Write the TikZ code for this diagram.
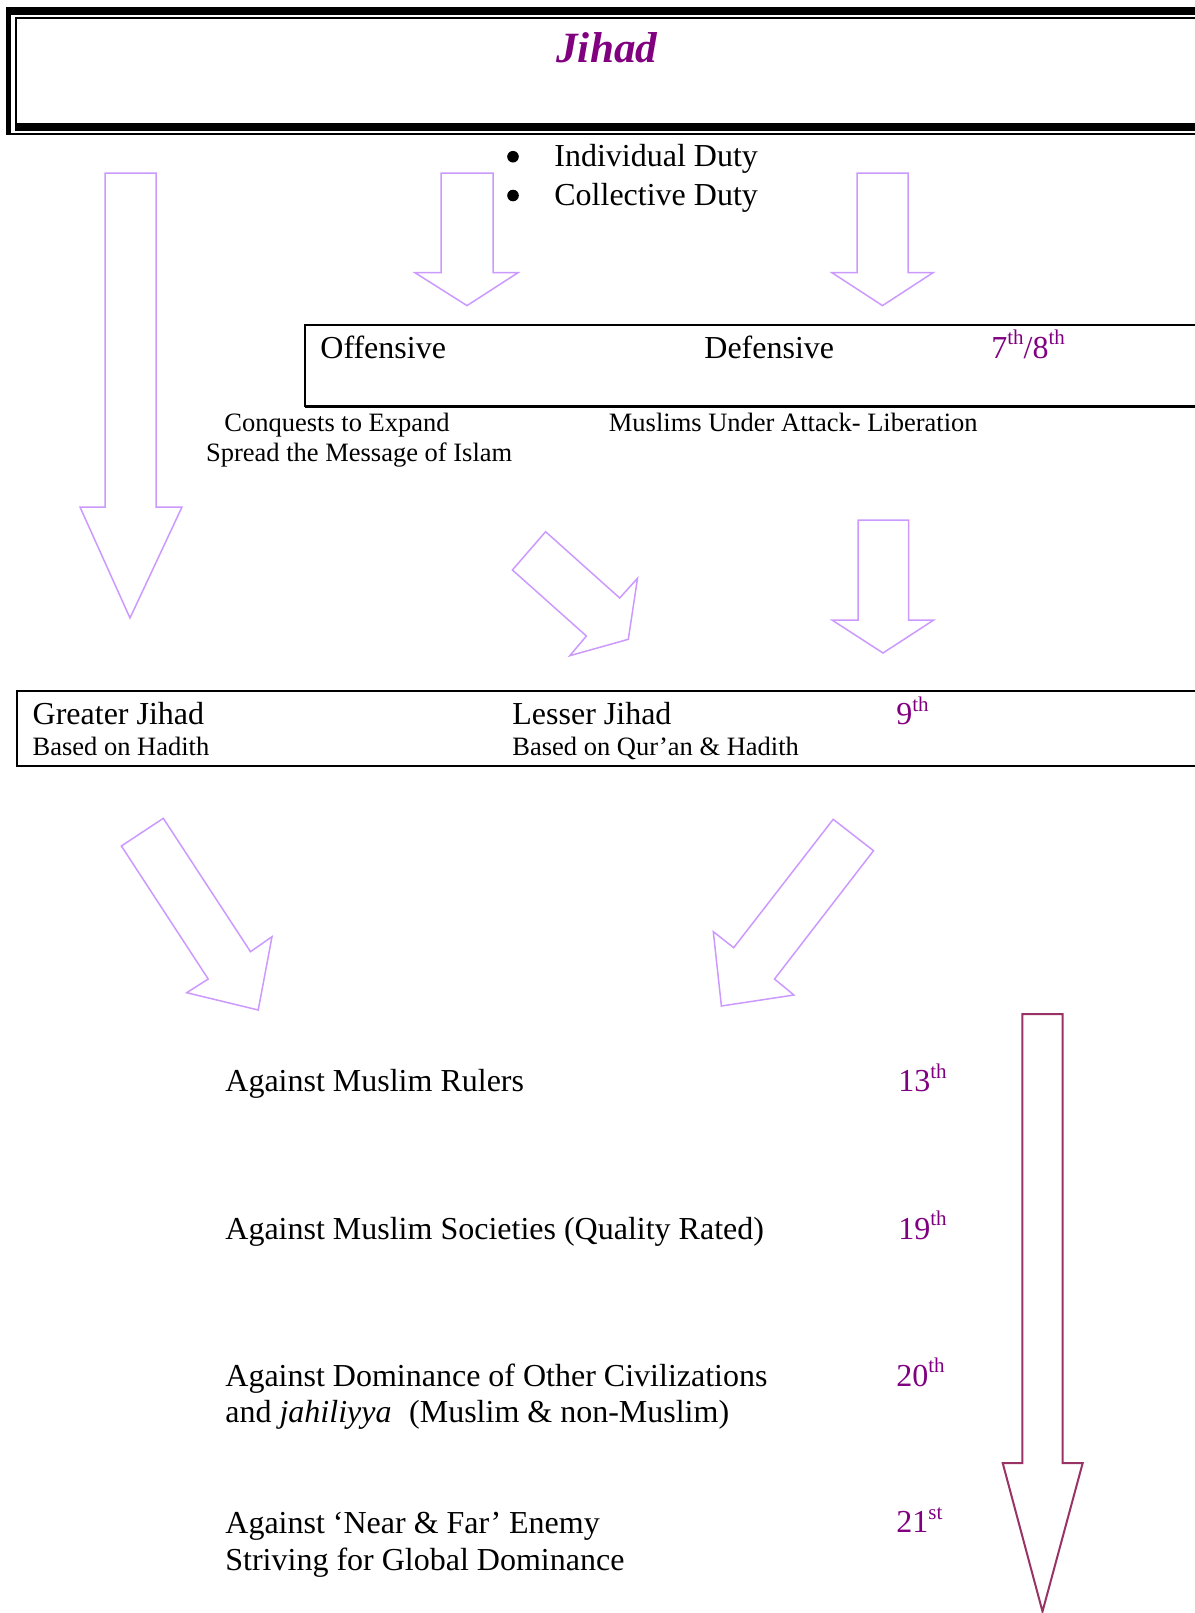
\documentclass[tikz,border=0pt]{standalone}
\usepackage{fontspec}
\setmainfont{Liberation Serif}
\definecolor{jpurple}{HTML}{800080}
\definecolor{lav}{HTML}{CC99FF}
\definecolor{plum}{HTML}{993366}
\newcommand{\supx}[1]{\raisebox{6.6pt}{\fontsize{10.5}{12}\selectfont #1}}
\tikzset{
  txt/.style={anchor=base west, inner sep=0pt, font=\fontsize{16}{19}\selectfont},
  smalltxt/.style={anchor=base west, inner sep=0pt, font=\fontsize{13.25}{16}\selectfont},
  cent/.style={txt, text=jpurple},
  bulletdot/.style={circle, fill=black, inner sep=0pt, minimum size=5.8pt},
  lavarrow/.style={draw=lav, line width=0.75pt, line join=miter},
  plumarrow/.style={draw=plum, line width=1pt, line join=miter},
  boxline/.style={draw=black, line width=1pt}
}
\begin{document}
\begin{tikzpicture}[x=0.5pt,y=-0.5pt]
\useasboundingbox (0,0) rectangle (1195,1613);

% ---- title box (double border) ----
\fill[black] (6,6.7) rectangle (1200,15);
\fill[black] (6,6.7) rectangle (11.4,134.7);
\fill[black] (14.5,122.7) rectangle (1200,131);
\fill[black] (14.5,17) rectangle (1200,18.7);
\fill[black] (14.5,17) rectangle (16.8,131);
\fill[black] (6,132.7) rectangle (1200,134.7);
\node[anchor=base, inner sep=0pt, text=jpurple, font=\fontsize{21.6}{26}\selectfont\bfseries\itshape] (title) at (606.8,62.7) {Jihad};

% ---- bullets ----
\node[bulletdot] (b1) at (513,156.7) {};
\node[bulletdot] (b2) at (513,195.5) {};
\node[txt] (ind) at (554,166.7) {Individual Duty};
\node[txt] (col) at (554,205) {Collective Duty};

% ---- top arrows ----
\draw[lavarrow] (105,173) -- (156,173) -- (156,507) -- (182,507) -- (130,618) -- (80,507) -- (105,507) -- cycle;
\draw[lavarrow] (441,173) -- (493,173) -- (493,272.7) -- (518,272.7) -- (467,305.6) -- (415,272.7) -- (441,272.7) -- cycle;
\draw[lavarrow] (857,173) -- (908,173) -- (908,272.7) -- (933,272.7) -- (882.5,305.6) -- (832,272.7) -- (857,272.7) -- cycle;

% ---- offensive / defensive box ----
\draw[boxline] (1200,325) -- (304.5,325) -- (304.5,406) -- (1200,406);
\draw[black, line width=1.5pt] (304.5,406) -- (1200,406);
\node[txt] (off) at (320,358) {Offensive};
\node[txt] (def) at (704,358) {Defensive};
\node[cent] (c78) at (991,358) {7\supx{th}/8\supx{th}};
\node[smalltxt] (conq) at (224,431.5) {Conquests to Expand};
\node[smalltxt] (spread) at (205.7,461.5) {Spread the Message of Islam};
\node[smalltxt] (attack) at (608.5,431.5) {Muslims Under Attack- Liberation};

% ---- middle arrows ----
\draw[lavarrow] (545.6,531.7) -- (619.7,598) -- (637.5,578.3) -- (628.3,639.3) -- (569.8,655.7) -- (586.4,636) -- (512.4,570) -- cycle;
\draw[lavarrow] (858,520) -- (908.5,520) -- (908.5,620) -- (933.7,620) -- (883,653) -- (832,620) -- (858,620) -- cycle;

% ---- greater / lesser box ----
\draw[boxline] (1200,691.3) -- (17,691.3) -- (17,766) -- (1200,766);
\draw[black, line width=1.3pt] (17,766) -- (1200,766);
\node[txt] (greater) at (32.3,724.3) {Greater Jihad};
\node[smalltxt] (gbase) at (32.3,755) {Based on Hadith};
\node[txt] (lesser) at (512,724.3) {Lesser Jihad};
\node[smalltxt] (lbase) at (512,755) {Based on Qur’an \& Hadith};
\node[cent] (c9) at (896,724.3) {9\supx{th}};

% ---- lower diagonal arrows ----
\draw[lavarrow] (163.3,818.3) -- (250.5,951.7) -- (272,936.7) -- (258.2,1010) -- (186.7,992.7) -- (208.2,979) -- (121.4,846) -- cycle;
\draw[lavarrow] (833.2,819.3) -- (873.5,850.7) -- (774.5,979) -- (793.9,995) -- (721.4,1006) -- (713.3,931.7) -- (733.7,947.7) -- cycle;

% ---- list of targets ----
\node[txt] (rulers) at (225,1091) {Against Muslim Rulers};
\node[cent] (c13) at (898,1091.7) {13\supx{th}};
\node[txt] (soc) at (225,1239) {Against Muslim Societies (Quality Rated)};
\node[cent] (c19) at (898,1239) {19\supx{th}};
\node[txt] (dom) at (225,1386) {Against Dominance of Other Civilizations};
\node[txt] (jah) at (225,1422.7) {and \textit{jahiliyya}\hspace{0.55em}(Muslim \& non-Muslim)};
\node[cent] (c20) at (896,1386) {20\supx{th}};
\node[txt] (near) at (225,1533) {Against ‘Near \& Far’ Enemy};
\node[txt] (striv) at (225,1570) {Striving for Global Dominance};
\node[cent] (c21) at (896,1532.7) {21\supx{st}};

% ---- timeline arrow ----
\draw[plumarrow] (1022.3,1014) -- (1062.7,1014) -- (1062.7,1463) -- (1082.7,1463) -- (1042.5,1611.5) -- (1002.7,1463) -- (1022.3,1463) -- cycle;
\end{tikzpicture}
\end{document}
